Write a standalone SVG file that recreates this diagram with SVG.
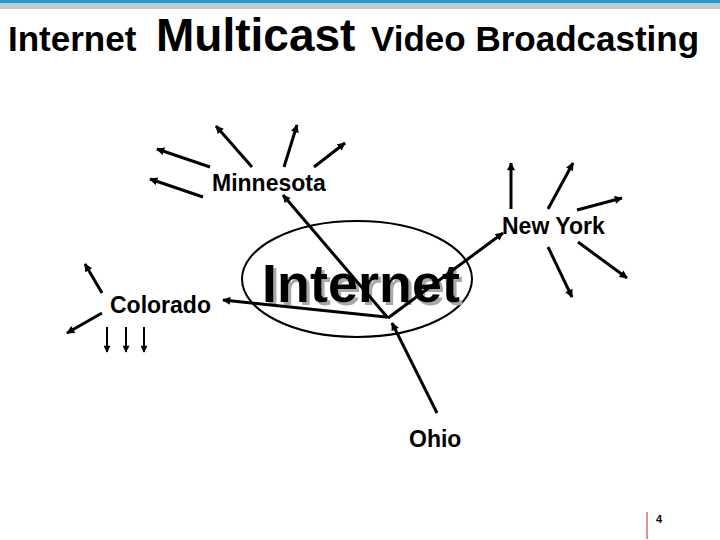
<svg xmlns="http://www.w3.org/2000/svg" width="720" height="540" viewBox="0 0 720 540">
<defs>
<style>
.t{font-family:"Liberation Sans",Arial,sans-serif;fill:#000}
.title{font-weight:bold}
.lbl{font-size:23px;font-weight:bold}
.arr{stroke:#000;stroke-width:3;fill:none;marker-end:url(#ah)}
.thin{stroke:#000;stroke-width:2;fill:none;marker-end:url(#ahs)}
</style>
<filter id="shadow" x="-10%" y="-20%" width="120%" height="140%">
<feOffset in="SourceAlpha" dx="2.5" dy="2.5" result="off"/>
<feFlood flood-color="#a8a8a8"/>
<feComposite in2="off" operator="in" result="sh"/>
<feMerge><feMergeNode in="sh"/><feMergeNode in="SourceGraphic"/></feMerge>
</filter>
<marker id="ah" viewBox="0 0 10 10" refX="9" refY="5" markerWidth="9" markerHeight="8" markerUnits="userSpaceOnUse" orient="auto"><path d="M0,0 L10,5 L0,10 z" fill="#000"/></marker>
<marker id="ahs" viewBox="0 0 10 10" refX="9" refY="5" markerWidth="8" markerHeight="7" markerUnits="userSpaceOnUse" orient="auto"><path d="M0,0 L10,5 L0,10 z" fill="#000"/></marker>
</defs>
<rect x="0" y="0" width="720" height="540" fill="#fff"/>
<rect x="0" y="0" width="720" height="3" fill="#1e9ccb"/>
<rect x="0" y="3" width="720" height="6" fill="#c8c8c8"/>
<g id="title">
<text class="t title" x="8" y="51" font-size="35">Internet</text>
<text class="t title" x="156" y="51" font-size="46">Multicast</text>
<text class="t title" x="371" y="51" font-size="35">Video Broadcasting</text>
</g>
<g id="internet">
<ellipse cx="357" cy="279" rx="115" ry="58" fill="none" stroke="#000" stroke-width="2"/>
<text class="t" x="262" y="302" font-size="54" font-weight="bold" filter="url(#shadow)">Internet</text>
</g>
<g id="minnesota"><text class="t lbl" x="212" y="191">Minnesota</text></g>
<g id="newyork"><text class="t lbl" x="502" y="234">New York</text></g>
<g id="colorado"><text class="t lbl" x="110" y="313">Colorado</text></g>
<g id="ohio"><text class="t lbl" x="409" y="447">Ohio</text></g>
<g id="connectors">
<line class="arr" x1="437" y1="413" x2="392" y2="323"/>
<line class="arr" x1="388" y1="318" x2="283" y2="195"/>
<line class="arr" x1="388" y1="318" x2="503" y2="233"/>
<line class="arr" x1="386" y1="317" x2="223" y2="300"/>
<line class="arr" x1="210" y1="167" x2="157" y2="149"/>
<line class="arr" x1="203" y1="197" x2="150" y2="179"/>
<line class="arr" x1="252" y1="167" x2="216" y2="126"/>
<line class="arr" x1="284" y1="167" x2="297" y2="125"/>
<line class="arr" x1="314" y1="167" x2="345" y2="143"/>
<line class="arr" x1="511" y1="209" x2="511" y2="163"/>
<line class="arr" x1="548" y1="209" x2="573" y2="163"/>
<line class="arr" x1="577" y1="210" x2="622" y2="198"/>
<line class="arr" x1="578" y1="242" x2="627" y2="278"/>
<line class="arr" x1="548" y1="247" x2="572" y2="297"/>
<line class="arr" x1="102" y1="293" x2="85" y2="264"/>
<line class="arr" x1="102" y1="313" x2="67" y2="333"/>
<line class="thin" x1="107" y1="327" x2="107" y2="352"/>
<line class="thin" x1="126" y1="327" x2="126" y2="352"/>
<line class="thin" x1="144" y1="327" x2="144" y2="352"/>
</g>
<g id="footer">
<line x1="647" y1="512" x2="647" y2="539" stroke="#c0202a" stroke-width="1"/>
<text class="t" x="656" y="523" font-size="11" font-weight="bold">4</text>
</g>
</svg>
